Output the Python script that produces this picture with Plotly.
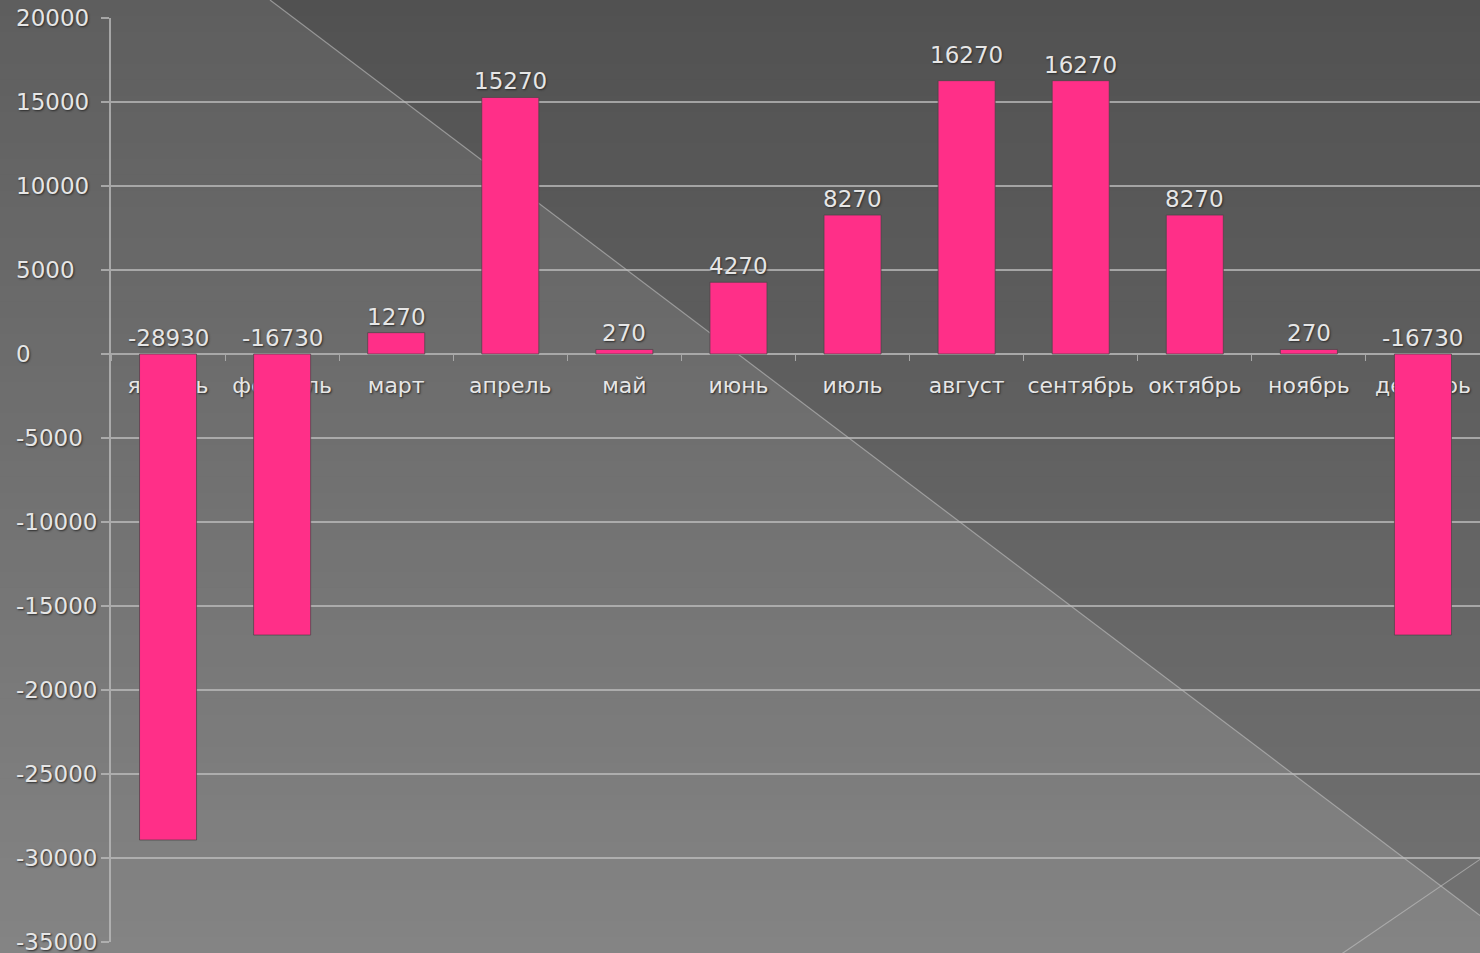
import plotly.graph_objects as go

months = ["январь", "февраль", "март", "апрель", "май", "июнь",
          "июль", "август", "сентябрь", "октябрь", "ноябрь", "декабрь"]
values = [-28930, -16730, 1270, 15270, 270, 4270, 8270, 16270, 16270, 8270, 270, -16730]
y_ticks = [20000, 15000, 10000, 5000, 0, -5000, -10000, -15000, -20000, -25000, -30000, -35000]
label_nudge = {"август": 10}

W, H = 1480, 953
ML, MR, MT, MB = 111, 0, 18, 11
PW, PH = W - ML - MR, H - MT - MB

def px(x):
    return (x - ML) / PW

def py(y):
    return (H - MB - y) / PH

FONT = "DejaVu Sans"
TXT = "#e6e6e6"
SHADOW = "1px 1px 2px #2a2a2a"

fig = go.Figure()
fig.add_trace(go.Bar(
    x=months, y=values, width=0.5,
    marker=dict(color="#ff2f88", line=dict(color="rgba(70,70,70,0.7)", width=1)),
    hoverinfo="x+y",
))

shapes = []
# vertical gradient background
n = 60
top = (94, 94, 94)
bot = (132, 132, 132)
for i in range(n):
    t = (i + 0.5) / n
    c = tuple(round(top[k] + (bot[k] - top[k]) * t) for k in range(3))
    y0 = i * H / n
    y1 = (i + 1) * H / n + 1
    shapes.append(dict(type="rect", xref="paper", yref="paper", layer="below",
                       x0=px(0), x1=px(W + 2), y0=py(y0), y1=py(y1),
                       fillcolor="rgb(%d,%d,%d)" % c, line=dict(width=0)))
# darker triangle top-right
shapes.append(dict(type="path", xref="paper", yref="paper", layer="below",
                   path="M %f,%f L %f,%f L %f,%f Z" % (px(270), py(0), px(W + 2), py(0), px(W + 2), py(917)),
                   fillcolor="rgba(0,0,0,0.13)", line=dict(width=0)))
# diagonal decoration lines
shapes.append(dict(type="line", xref="paper", yref="paper", layer="below",
                   x0=px(270), y0=py(0), x1=px(W + 2), y1=py(917),
                   line=dict(color="rgba(200,200,200,0.55)", width=1.2)))
shapes.append(dict(type="line", xref="paper", yref="paper", layer="below",
                   x0=px(1340), y0=py(H + 2), x1=px(W + 2), y1=py(858),
                   line=dict(color="rgba(200,200,200,0.55)", width=1.2)))

annotations = []
for t in y_ticks:
    annotations.append(dict(xref="paper", yref="y", x=px(14), y=t, text=str(t),
                            xanchor="left", yanchor="middle", showarrow=False,
                            font=dict(family=FONT, size=23, color=TXT, shadow=SHADOW)))
for m, v in zip(months, values):
    annotations.append(dict(xref="x", yref="y", x=m, y=max(v, 0), text=str(v),
                            xanchor="center", yanchor="bottom", showarrow=False,
                            yshift=1 + label_nudge.get(m, 0),
                            font=dict(family=FONT, size=23, color=TXT, shadow=SHADOW)))

zero_pos = (0 - (-35000)) / (20000 - (-35000))

fig.update_layout(
    width=W, height=H,
    margin=dict(l=ML, r=MR, t=MT, b=MB, pad=0, autoexpand=False),
    paper_bgcolor="rgb(94,94,94)",
    plot_bgcolor="rgba(0,0,0,0)",
    showlegend=False,
    shapes=shapes,
    annotations=annotations,
    bargap=0.5,
    xaxis=dict(
        type="category", categoryorder="array", categoryarray=months,
        anchor="free", position=zero_pos, layer="below traces",
        automargin=False, tickangle=0,
        showline=True, linecolor="#a8a8a8", linewidth=2,
        ticks="outside", tickson="boundaries", ticklen=6, tickwidth=1, tickcolor="#a8a8a8",
        ticklabelstandoff=12,
        showgrid=False, zeroline=False,
        tickfont=dict(family=FONT, size=22, color=TXT, shadow=SHADOW),
        range=[-0.5, 11.5], fixedrange=True,
    ),
    yaxis=dict(
        range=[-35000, 20000], tickvals=y_ticks, showticklabels=False,
        automargin=False,
        showgrid=True, gridcolor="rgba(190,190,190,0.75)", gridwidth=2,
        showline=True, linecolor="rgba(190,190,190,0.75)", linewidth=1.5,
        ticks="outside", ticklen=8, tickcolor="rgba(190,190,190,0.75)", tickwidth=2,
        zeroline=False, fixedrange=True,
    ),
)

fig.write_html("out.html", config={"displayModeBar": False},
               post_script="document.body.style.margin='0';document.body.style.overflow='hidden';")
